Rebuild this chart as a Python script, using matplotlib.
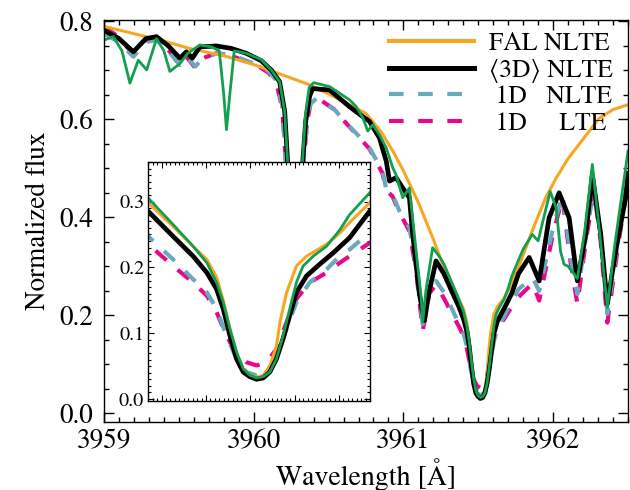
import matplotlib
matplotlib.use("Agg")
import matplotlib.pyplot as plt
from matplotlib.ticker import MultipleLocator, FormatStrFormatter
from matplotlib.lines import Line2D

plt.rcParams['font.family'] = ['STIXGeneral', 'DejaVu Serif']
plt.rcParams['mathtext.fontset'] = 'stix'

# ---------------- data ----------------
wl_fal = [3959.0, 3959.2, 3959.4, 3959.57, 3959.8, 3960.0, 3960.2, 3960.37, 3960.5, 3960.6,
          3960.75, 3960.85, 3960.93, 3961.0, 3961.1, 3961.2,
          3961.270, 3961.326, 3961.371, 3961.402, 3961.424, 3961.439, 3961.454, 3961.469,
          3961.484, 3961.499, 3961.514, 3961.529, 3961.544, 3961.559, 3961.567, 3961.582,
          3961.604, 3961.627, 3961.672, 3961.702, 3961.724, 3961.769,
          3961.86, 3961.95, 3962.02, 3962.1, 3962.173, 3962.307, 3962.4, 3962.5]
fl_fal = [0.79, 0.775, 0.76, 0.745, 0.73, 0.712, 0.69, 0.671, 0.652, 0.636,
          0.612, 0.575, 0.535, 0.495, 0.43, 0.355,
          0.298, 0.262, 0.232, 0.212, 0.185, 0.15, 0.107, 0.07,
          0.046, 0.036, 0.033, 0.036, 0.05, 0.08, 0.117, 0.162,
          0.202, 0.217, 0.235, 0.252, 0.268, 0.298,
          0.372, 0.44, 0.48, 0.52, 0.549, 0.602, 0.62, 0.63]

wl_3d = [3959.00, 3959.10, 3959.196, 3959.28, 3959.35, 3959.43, 3959.507, 3959.55, 3959.59,
         3959.64, 3959.75, 3959.85, 3959.95, 3960.05, 3960.12, 3960.173, 3960.207, 3960.227,
         3960.25, 3960.28, 3960.31, 3960.327, 3960.347, 3960.373, 3960.393, 3960.43, 3960.507,
         3960.64, 3960.70, 3960.773, 3960.84, 3960.885, 3960.907, 3960.951, 3960.995, 3961.04,
         3961.062, 3961.107, 3961.14, 3961.173, 3961.218,
         3961.270, 3961.326, 3961.371, 3961.402, 3961.424, 3961.439, 3961.454, 3961.469,
         3961.484, 3961.499, 3961.514, 3961.529, 3961.544, 3961.559, 3961.574, 3961.589,
         3961.604, 3961.627, 3961.657, 3961.687, 3961.724, 3961.769,
         3961.84, 3961.907, 3961.973, 3962.04, 3962.107, 3962.162, 3962.218, 3962.262,
         3962.318, 3962.362, 3962.418, 3962.484, 3962.5]
fl_3d = [0.782, 0.765, 0.738, 0.765, 0.769, 0.75, 0.725, 0.738, 0.725,
         0.748, 0.75, 0.745, 0.735, 0.72, 0.70, 0.677, 0.616, 0.51,
         0.30, 0.12, 0.30, 0.51, 0.596, 0.647, 0.663, 0.662, 0.66,
         0.626, 0.612, 0.596, 0.562, 0.515, 0.474, 0.481, 0.46, 0.44,
         0.365, 0.243, 0.189, 0.25, 0.311,
         0.285, 0.247, 0.217, 0.192, 0.167, 0.137, 0.0965, 0.061,
         0.041, 0.034, 0.030, 0.032, 0.041, 0.061, 0.0915, 0.127,
         0.162, 0.187, 0.205, 0.222, 0.245, 0.285,
         0.318, 0.27, 0.399, 0.45, 0.399, 0.27, 0.365, 0.487,
         0.365, 0.223, 0.331, 0.44, 0.49]

wl_3d_full = [3959.0, 3959.062, 3959.12, 3959.173, 3959.229, 3959.285, 3959.351, 3959.40,
              3959.44, 3959.507, 3959.56, 3959.64, 3959.72, 3959.77, 3959.80, 3959.818,
              3959.84, 3959.87, 3959.95, 3960.05, 3960.12, 3960.173, 3960.207, 3960.227,
              3960.25, 3960.28, 3960.31, 3960.325, 3960.345, 3960.37, 3960.40, 3960.507,
              3960.64, 3960.685, 3960.729, 3960.762, 3960.795, 3960.84, 3960.885, 3960.929,
              3960.951, 3960.995, 3961.04, 3961.073, 3961.118, 3961.129, 3961.15, 3961.195,
              3961.24,
              3961.270, 3961.326, 3961.371, 3961.402, 3961.424, 3961.439, 3961.454, 3961.469,
              3961.484, 3961.499, 3961.514, 3961.529, 3961.544, 3961.559, 3961.574, 3961.589,
              3961.604, 3961.619, 3961.642, 3961.672, 3961.702, 3961.724, 3961.769,
              3961.80, 3961.86, 3961.90, 3961.98, 3962.02, 3962.05, 3962.073, 3962.10,
              3962.162, 3962.21, 3962.262, 3962.31, 3962.362, 3962.41, 3962.484, 3962.5]
fl_3d_full = [0.762, 0.769, 0.74, 0.674, 0.721, 0.701, 0.765, 0.74,
              0.698, 0.714, 0.735, 0.752, 0.748, 0.74, 0.65, 0.579,
              0.65, 0.74, 0.735, 0.722, 0.70, 0.677, 0.616, 0.51,
              0.30, 0.12, 0.30, 0.51, 0.61, 0.665, 0.675, 0.667,
              0.64, 0.626, 0.603, 0.576, 0.589, 0.569, 0.542, 0.501,
              0.487, 0.44, 0.46, 0.365, 0.237, 0.186, 0.25, 0.338,
              0.32,
              0.305, 0.265, 0.232, 0.207, 0.177, 0.147, 0.107, 0.0715,
              0.046, 0.036, 0.032, 0.034, 0.041, 0.061, 0.0965, 0.137,
              0.177, 0.202, 0.217, 0.232, 0.257, 0.28, 0.313,
              0.335, 0.365, 0.352, 0.453, 0.42, 0.33, 0.304, 0.30,
              0.275, 0.37, 0.508, 0.37, 0.216, 0.34, 0.50, 0.535]

wl_1d = [3959.0, 3959.10, 3959.196, 3959.28, 3959.35, 3959.43, 3959.507, 3959.55, 3959.61,
         3959.66, 3959.75, 3959.85, 3959.95, 3960.05, 3960.10, 3960.15, 3960.19, 3960.215,
         3960.25, 3960.28, 3960.31, 3960.33, 3960.36, 3960.38, 3960.42, 3960.54, 3960.618,
         3960.684, 3960.773, 3960.86, 3960.885, 3960.927, 3960.973, 3961.04, 3961.085,
         3961.129, 3961.173, 3961.218,
         3961.270, 3961.326, 3961.371, 3961.402, 3961.424, 3961.446, 3961.469, 3961.491,
         3961.514, 3961.537, 3961.559, 3961.582, 3961.604, 3961.634, 3961.672, 3961.702,
         3961.724, 3961.769,
         3961.795, 3961.862, 3961.907, 3961.995, 3962.062, 3962.118, 3962.162, 3962.218,
         3962.273, 3962.318, 3962.362, 3962.44, 3962.5]
fl_1d_nlte = [0.775, 0.758, 0.728, 0.758, 0.762, 0.74, 0.711, 0.728, 0.708,
              0.725, 0.735, 0.732, 0.72, 0.708, 0.698, 0.68, 0.63, 0.51,
              0.25, 0.10, 0.25, 0.51, 0.60, 0.632, 0.643, 0.62, 0.592,
              0.572, 0.542, 0.495, 0.458, 0.447, 0.413, 0.379, 0.298,
              0.182, 0.25, 0.27,
              0.247, 0.212, 0.182, 0.162, 0.137, 0.0965, 0.061, 0.041,
              0.036, 0.041, 0.066, 0.107, 0.147, 0.177, 0.197, 0.217,
              0.227, 0.253,
              0.26, 0.277, 0.25, 0.372, 0.447, 0.318, 0.243, 0.359,
              0.46, 0.365, 0.203, 0.365, 0.48]
fl_1d_lte = [0.789, 0.768, 0.732, 0.762, 0.765, 0.742, 0.71, 0.728, 0.705,
             0.725, 0.735, 0.73, 0.718, 0.705, 0.695, 0.675, 0.625, 0.51,
             0.25, 0.10, 0.25, 0.51, 0.60, 0.635, 0.645, 0.62, 0.592,
             0.57, 0.54, 0.49, 0.455, 0.443, 0.41, 0.372, 0.29,
             0.168, 0.245, 0.262,
             0.235, 0.202, 0.177, 0.157, 0.132, 0.0965, 0.069, 0.056,
             0.051, 0.056, 0.076, 0.117, 0.152, 0.177, 0.192, 0.207,
             0.217, 0.237,
             0.245, 0.265, 0.23, 0.36, 0.44, 0.305, 0.223, 0.35,
             0.455, 0.35, 0.185, 0.355, 0.47]

labels = ['FAL NLTE', '\u27e83D\u27e9 NLTE', ' 1D   NLTE', ' 1D     LTE']

# ---------------- styles ----------------
c_fal = '#F7A623'
c_3d = 'black'
c_nlte = '#6AA8BE'
c_lte = '#E8088C'
c_3df = '#12A050'


def draw(ax):
    ax.plot(wl_1d, fl_1d_lte, color=c_lte, lw=3.0, dashes=(3.5, 3.5), dash_capstyle='butt',
            zorder=2)
    ax.plot(wl_1d, fl_1d_nlte, color=c_nlte, lw=3.0, dashes=(3.5, 3.5), dash_capstyle='butt',
            zorder=2.1)
    ax.plot(wl_fal, fl_fal, color=c_fal, lw=2.2, zorder=2.2)
    ax.plot(wl_3d, fl_3d, color=c_3d, lw=3.4, zorder=2.3)
    ax.plot(wl_3d_full, fl_3d_full, color=c_3df, lw=2.0, zorder=2.4)


fig = plt.figure(figsize=(6.3, 4.9), dpi=100)
ax = fig.add_axes([0.1651, 0.1388, 0.8317, 0.8204])
draw(ax)
ax.set_xlim(3959, 3962.5)
ax.set_ylim(-0.018, 0.803)
ax.xaxis.set_major_locator(MultipleLocator(1))
ax.xaxis.set_minor_locator(MultipleLocator(0.1))
ax.yaxis.set_major_locator(MultipleLocator(0.2))
ax.yaxis.set_minor_locator(MultipleLocator(0.05))
ax.yaxis.set_major_formatter(FormatStrFormatter('%.1f'))
ax.xaxis.set_major_formatter(FormatStrFormatter('%d'))
ax.tick_params(which='both', direction='in', top=True, right=True, width=1.0, labelsize=19.5)
ax.tick_params(which='major', length=7)
ax.tick_params(which='minor', length=3.5)
ax.tick_params(axis='x', pad=5)
ax.tick_params(axis='y', pad=8)
for s in ax.spines.values():
    s.set_linewidth(1.0)
ax.set_xlabel('Wavelength [\u00c5]', fontsize=20, labelpad=3)
ax.set_ylabel('Normalized flux', fontsize=19.5, labelpad=6)

handles = [Line2D([], [], color=c_fal, lw=3.0),
           Line2D([], [], color=c_3d, lw=3.6),
           Line2D([], [], color=c_nlte, lw=3.0, dashes=(3.5, 3.5), dash_capstyle='butt'),
           Line2D([], [], color=c_lte, lw=3.0, dashes=(3.5, 3.5), dash_capstyle='butt')]
ax.legend(handles, labels, loc='upper right', bbox_to_anchor=(0.972, 0.97), frameon=False,
          fontsize=18.5, handlelength=3.3, handletextpad=0.6, labelspacing=0.1,
          borderpad=0, borderaxespad=0)

# ---------------- inset ----------------
axi = fig.add_axes([0.2354, 0.1816, 0.3519, 0.4878])
axi.set_zorder(5)
axi.set_facecolor('white')
draw(axi)
axi.set_xlim(3961.27, 3961.77)
axi.set_ylim(-0.003, 0.36)
axi.xaxis.set_major_locator(MultipleLocator(0.1))
axi.xaxis.set_minor_locator(MultipleLocator(0.01))
axi.yaxis.set_major_locator(MultipleLocator(0.1))
axi.yaxis.set_minor_locator(MultipleLocator(0.01))
axi.yaxis.set_major_formatter(FormatStrFormatter('%.1f'))
axi.tick_params(which='both', direction='in', top=True, right=True, width=0.8,
                labelsize=14.5, labelbottom=False)
axi.tick_params(which='major', length=4.5)
axi.tick_params(which='minor', length=2)
axi.tick_params(axis='y', pad=3)
for s in axi.spines.values():
    s.set_linewidth(1.0)

fig.savefig('out.png', dpi=100)
